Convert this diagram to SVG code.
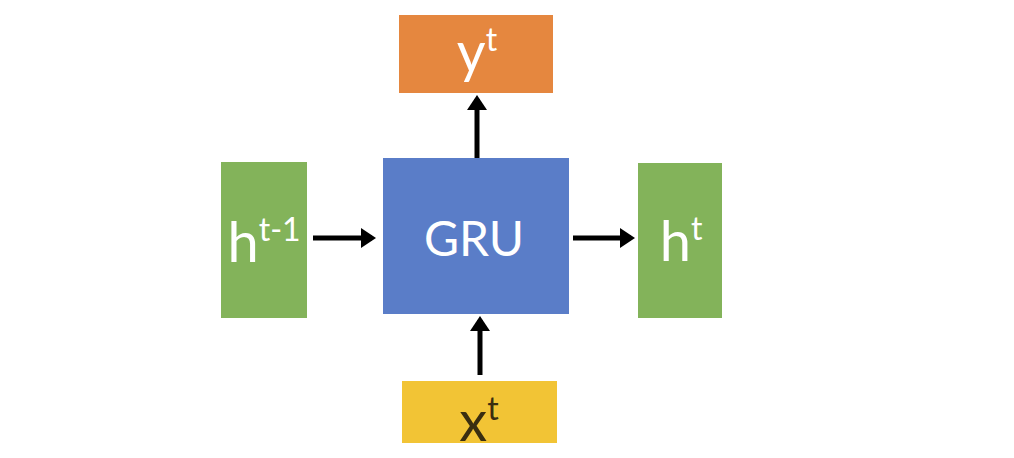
<svg xmlns="http://www.w3.org/2000/svg" width="1014" height="458" viewBox="0 0 1014 458">
<defs>
<style>
.lbl{font-family:Lato,"Open Sans","Liberation Sans",sans-serif;fill:#ffffff;text-anchor:middle}
.big{font-size:56px}
.sup{font-size:32px}
.dark{fill:#3a2e10}
.conn line{stroke:#000;stroke-width:5;marker-end:url(#ah)}
</style>
<marker id="ah" markerWidth="4" markerHeight="4" refX="2.2" refY="2" orient="auto" markerUnits="strokeWidth">
<path d="M0,0 L3,2 L0,4 Z" fill="#000"/>
</marker>
</defs>
<rect width="1014" height="458" fill="#ffffff"/>
<g id="y">
<rect x="399" y="15" width="154" height="78" fill="#E5873F"/>
<text class="lbl" x="477" y="72"><tspan class="big">y</tspan><tspan class="sup" dy="-21">t</tspan></text>
</g>
<g id="gru">
<rect x="383" y="158" width="186" height="156" fill="#5A7DC8"/>
<text class="lbl" x="474" y="256" font-size="48">GRU</text>
</g>
<g id="hprev">
<rect x="221" y="162" width="86" height="156" fill="#83B35A"/>
<text class="lbl" x="264" y="262"><tspan class="big">h</tspan><tspan class="sup" dy="-21">t-1</tspan></text>
</g>
<g id="h">
<rect x="638" y="163" width="84" height="155" fill="#83B35A"/>
<text class="lbl" x="681" y="261"><tspan class="big">h</tspan><tspan class="sup" dy="-21">t</tspan></text>
</g>
<g id="x">
<rect x="402" y="381" width="155" height="62" fill="#F2C435"/>
<text class="lbl dark" x="479" y="441"><tspan class="big">x</tspan><tspan class="sup" dy="-21">t</tspan></text>
</g>
<g class="conn">
<line x1="477" y1="158" x2="477" y2="99"/>
<line x1="313" y1="238" x2="372" y2="238"/>
<line x1="573" y1="238" x2="631" y2="238"/>
<line x1="480" y1="375" x2="480" y2="320"/>
</g>
</svg>
